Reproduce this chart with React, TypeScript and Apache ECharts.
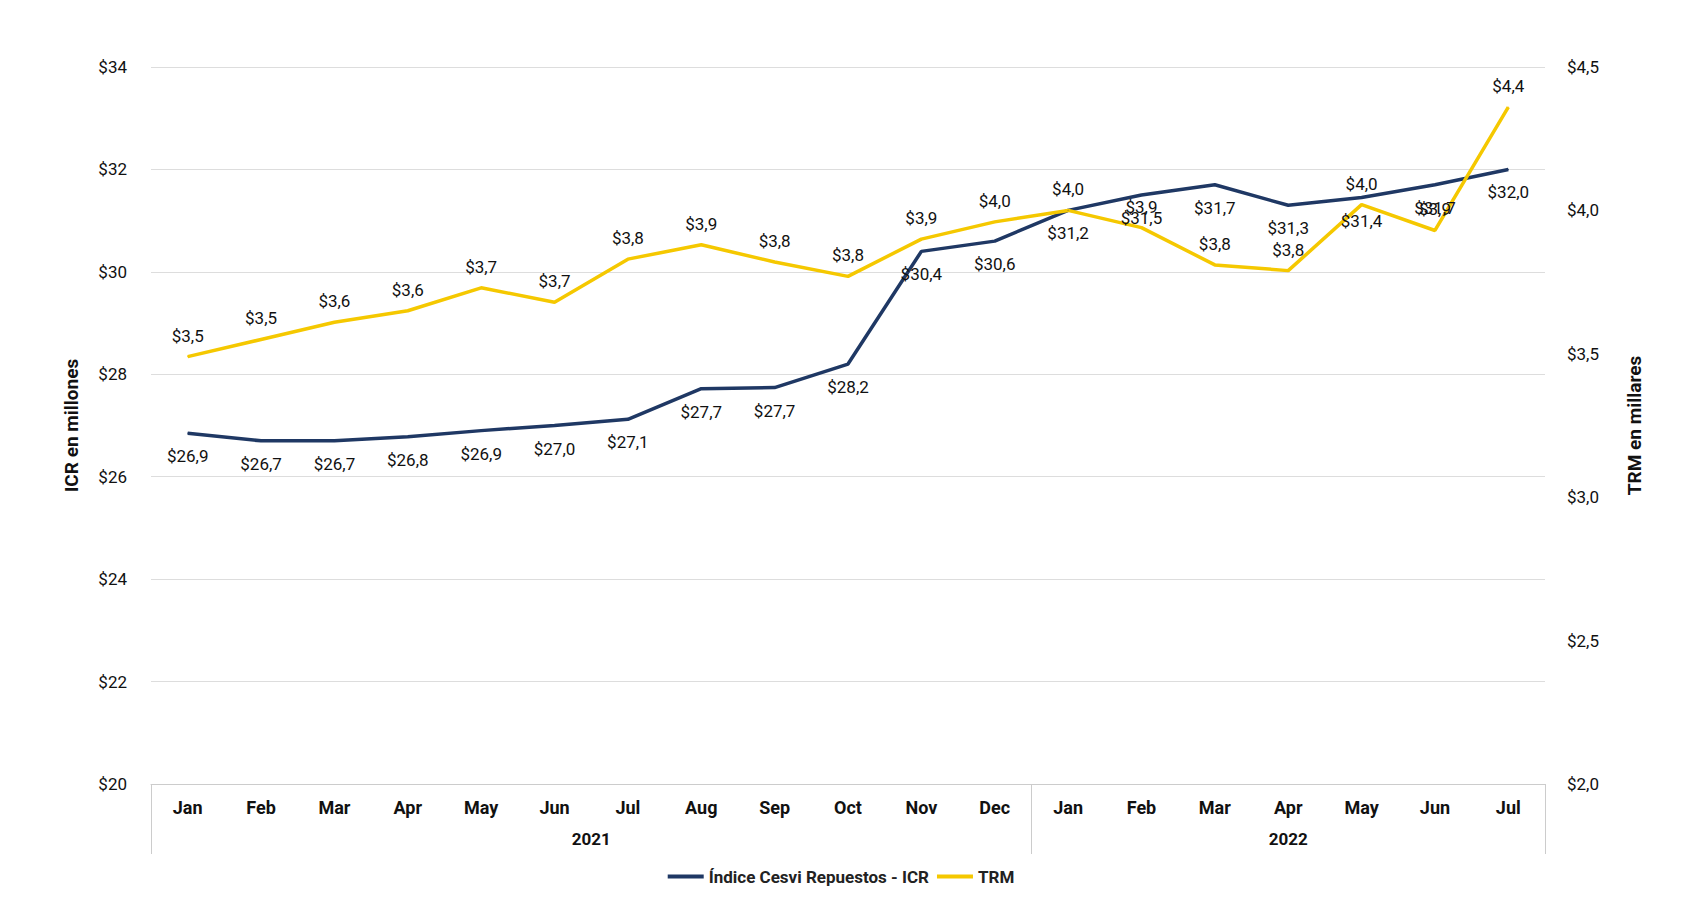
import React, { useEffect, useRef } from "react";
import * as echarts from "echarts";

const months = ["Jan","Feb","Mar","Apr","May","Jun","Jul","Aug","Sep","Oct","Nov","Dec","Jan","Feb","Mar","Apr","May","Jun","Jul"];
const years = ["2021", "2022"];
const icr = [26.85,26.7,26.7,26.78,26.9,27.0,27.12,27.72,27.74,28.2,30.4,30.6,31.2,31.5,31.7,31.3,31.45,31.7,32.0];
const trm = [3.49,3.55,3.61,3.65,3.73,3.68,3.83,3.88,3.82,3.77,3.9,3.96,4.0,3.94,3.81,3.79,4.02,3.93,4.36];

const FONT = "'Liberation Sans Narrow', 'Roboto', sans-serif";
const fmt = (v: number) => "$" + v.toFixed(1).replace(".", ",");

export default function App() {
  const ref = useRef<HTMLDivElement>(null);
  useEffect(() => {
    const chart = echarts.init(ref.current!, null, { renderer: "svg" });
    chart.setOption({
      animation: false,
      textStyle: { fontFamily: FONT },
      grid: { left: 143, right: 129, top: 59, bottom: 132 },
      legend: {
        bottom: 26, left: "center", itemWidth: 36, itemHeight: 4,
        textStyle: { fontFamily: FONT, fontWeight: "bold", fontSize: 17, color: "#222" },
        data: [{ name: "Índice Cesvi Repuestos - ICR", icon: "rect" }, { name: "TRM", icon: "rect" }],
      },
      xAxis: [
        {
          type: "category", data: months, boundaryGap: true,
          axisLine: { lineStyle: { color: "#ccc" } }, axisTick: { show: false },
          axisLabel: { color: "#111", fontWeight: "bold", fontSize: 18, margin: 14, fontFamily: FONT },
        },
        {
          type: "value", min: 0, max: 19, position: "bottom",
          axisLine: { show: false }, splitLine: { show: false },
          axisTick: { show: true, customValues: [0, 12, 19], length: 70, lineStyle: { color: "#ccc" } },
          axisLabel: {
            customValues: [6, 15.5], margin: 46, color: "#111", fontWeight: "bold", fontSize: 17, fontFamily: FONT,
            formatter: (v: number) => (v < 10 ? years[0] : years[1]),
          },
        },
      ],
      yAxis: [
        {
          type: "value", min: 20, max: 34, interval: 2,
          name: "ICR en millones", nameLocation: "middle", nameGap: 70, nameRotate: 90,
          nameTextStyle: { fontFamily: FONT, fontWeight: "bold", fontSize: 19, color: "#111" },
          axisLabel: { formatter: (v: number) => "$" + v, color: "#111", fontSize: 17, margin: 24 },
          splitLine: { lineStyle: { color: "#ddd" } }, axisLine: { show: false }, axisTick: { show: false },
        },
        {
          type: "value", min: 2, max: 4.5, interval: 0.5,
          name: "TRM en millares", nameLocation: "middle", nameGap: 80, nameRotate: 90,
          nameTextStyle: { fontFamily: FONT, fontWeight: "bold", fontSize: 19, color: "#111" },
          axisLabel: { formatter: fmt, color: "#111", fontSize: 17, margin: 22 },
          splitLine: { show: false }, axisLine: { show: false }, axisTick: { show: false },
        },
      ],
      series: [
        {
          name: "Índice Cesvi Repuestos - ICR", type: "line", data: icr, yAxisIndex: 0, xAxisIndex: 0,
          symbol: "circle", symbolSize: 1, showSymbol: true, showAllSymbol: true,
          lineStyle: { color: "#1f3864", width: 3.5 }, itemStyle: { color: "#1f3864" },
          label: { show: true, position: "bottom", distance: 14, formatter: (p: any) => fmt(p.value), color: "#111", fontSize: 17 },
          labelLayout: { hideOverlap: false },
        },
        {
          name: "TRM", type: "line", data: trm, yAxisIndex: 1, xAxisIndex: 0,
          symbol: "circle", symbolSize: 1, showSymbol: true, showAllSymbol: true,
          lineStyle: { color: "#f5c800", width: 3.5 }, itemStyle: { color: "#f5c800" },
          label: { show: true, position: "top", distance: 12, formatter: (p: any) => fmt(p.value), color: "#111", fontSize: 17 },
          labelLayout: { hideOverlap: false },
        },
      ],
    });
    return () => chart.dispose();
  }, []);
  return <div ref={ref} style={{ width: 1666, height: 908 }} />;
}
